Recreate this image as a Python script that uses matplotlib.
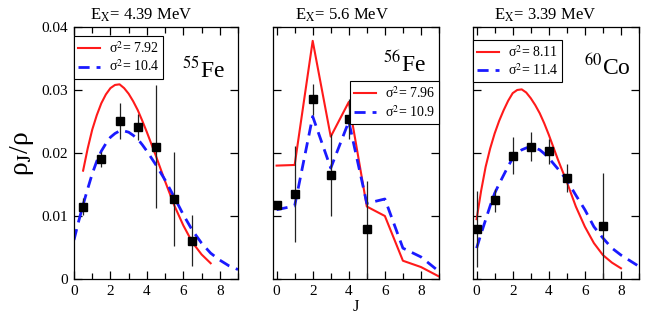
import matplotlib
matplotlib.use("Agg")
import matplotlib.pyplot as plt
import numpy as np

plt.rcParams["font.family"] = ["Liberation Serif", "DejaVu Serif"]
plt.rcParams["mathtext.fontset"] = "stix"

# ---- 55Fe, Ex = 4.39 MeV ----
fe55_j = [0.5, 1.5, 2.5, 3.5, 4.5, 5.5, 6.5]
fe55_y = [0.0115, 0.0190, 0.0251, 0.0241, 0.0210, 0.0127, 0.0061]
fe55_err = [0.0013, 0.0012, 0.0028, 0.0021, 0.0098, 0.0074, 0.0041]
fe55_red_j = [0.5, 0.75, 1.0, 1.25, 1.5, 1.75, 2.0, 2.25, 2.5, 2.75, 3.0, 3.25,
              3.5, 3.75, 4.0, 4.5, 5.0, 5.5, 6.0, 6.5, 7.0, 7.5]
fe55_red = [0.0172, 0.0207, 0.0237, 0.0260, 0.0279, 0.0293, 0.0303, 0.0308,
            0.0309, 0.0303, 0.0294, 0.0282, 0.0268, 0.0251, 0.0233,
            0.0195, 0.0155, 0.0117, 0.0085, 0.0058, 0.0039, 0.0025]
fe55_blue_j = [0.0, 0.25, 0.5, 0.75, 1.0, 1.25, 1.5, 1.75, 2.0, 2.25, 2.5, 2.75,
               3.0, 3.25, 3.5, 3.75, 4.0, 4.5, 5.0, 5.5, 6.0, 6.5, 7.0, 7.5,
               8.0, 8.5, 9.0]
fe55_blue = [0.0062, 0.0091, 0.0118, 0.0143, 0.0167, 0.0187, 0.0203, 0.0215,
             0.0225, 0.0231, 0.0235, 0.0235, 0.0233, 0.0228, 0.0222, 0.0213,
             0.0203, 0.0181, 0.0157, 0.0130, 0.0102, 0.0077, 0.0057, 0.0041,
             0.0030, 0.0021, 0.0015]

# ---- 56Fe, Ex = 5.6 MeV ----
fe56_j = [0, 1, 2, 3, 4, 5]
fe56_y = [0.0118, 0.0135, 0.0285, 0.0165, 0.0254, 0.0079]
fe56_err = [0.0004, 0.0076, 0.0025, 0.0065, 0.0032, 0.0077]
fe56_line_j = [0, 1, 2, 3, 4, 5, 6, 7, 8, 9]
fe56_red = [0.0180, 0.0181, 0.0378, 0.0226, 0.0281, 0.0115, 0.0100, 0.0029, 0.0019, 0.0004]
fe56_blue = [0.0110, 0.0116, 0.0258, 0.0176, 0.0250, 0.0120, 0.0127, 0.0049, 0.0035, 0.0012]

# ---- 60Co, Ex = 3.39 MeV ----
co60_j = [0, 1, 2, 3, 4, 5, 7]
co60_y = [0.0079, 0.0125, 0.0196, 0.0210, 0.0203, 0.0160, 0.0084]
co60_err = [0.0060, 0.0018, 0.0030, 0.0023, 0.0020, 0.0022, 0.0084]
co60_red_j = [0.0, 0.25, 0.5, 0.75, 1.0, 1.25, 1.5, 1.75, 2.0, 2.25, 2.5, 2.75,
              3.0, 3.25, 3.5, 3.75, 4.0, 4.5, 5.0, 5.5, 6.0, 6.5, 7.0, 7.5, 8.0]
co60_red = [0.0095, 0.0140, 0.0178, 0.0207, 0.0231, 0.0251, 0.0268, 0.0283,
            0.0295, 0.0300, 0.0301, 0.0296, 0.0287, 0.0276, 0.0263, 0.0247,
            0.0229, 0.0190, 0.0154, 0.0115, 0.0083, 0.0057, 0.0038, 0.0026, 0.0017]
co60_blue_j = [0.0, 0.25, 0.5, 0.75, 1.0, 1.25, 1.5, 1.75, 2.0, 2.25, 2.5, 2.75,
               3.0, 3.25, 3.5, 3.75, 4.0, 4.5, 5.0, 5.5, 6.0, 6.5, 7.0, 7.5,
               8.0, 8.5, 9.0]
co60_blue = [0.0049, 0.0072, 0.0094, 0.0116, 0.0136, 0.0151, 0.0165, 0.0179,
             0.0192, 0.0199, 0.0205, 0.0208, 0.0210, 0.0208, 0.0205, 0.0199,
             0.0192, 0.0175, 0.0157, 0.0133, 0.0110, 0.0083, 0.0065, 0.0049,
             0.0038, 0.0029, 0.0020]

titles = ["E$_{\\rm X}$= 4.39 MeV", "E$_{\\rm X}$= 5.6 MeV", "E$_{\\rm X}$= 3.39 MeV"]
nuclei = ["$^{55}$Fe", "$^{56}$Fe", "$^{60}$Co"]
red_labels = ["σ$^2$= 7.92", "σ$^2$= 7.96", "σ$^2$= 8.11"]
blue_labels = ["σ$^2$= 10.4", "σ$^2$= 10.9", "σ$^2$= 11.4"]

RED = "#ff1a1a"
BLUE = "#1a1aff"

panels = [
    (fe55_j, fe55_y, fe55_err, fe55_red_j, fe55_red, fe55_blue_j, fe55_blue),
    (fe56_j, fe56_y, fe56_err, fe56_line_j, fe56_red, fe56_line_j, fe56_blue),
    (co60_j, co60_y, co60_err, co60_red_j, co60_red, co60_blue_j, co60_blue),
]

fig = plt.figure(figsize=(6.54, 3.16), dpi=100)
lefts = [74 / 654, 273 / 654, 473 / 654]
widths = [164 / 654, 166 / 654, 166 / 654]
xlims = [(0, 9), (-0.2, 9), (-0.2, 9)]
legend_anchor = [(0.0, 0.965), (1.0, 0.785), (0.0, 0.95)]
legend_loc = ["upper left", "upper right", "upper left"]
nuc_pos = [(0.66, 0.80), (0.66, 0.82), (0.67, 0.81)]
title_x = [0.41, 0.415, 0.435]

for i, (jj, yy, ee, rj, rv, bj, bv) in enumerate(panels):
    ax = fig.add_axes([lefts[i], 1 - 279 / 316, widths[i], 252 / 316])
    ax.plot(rj, rv, color=RED, lw=1.5, label=red_labels[i], zorder=2)
    ax.plot(bj, bv, color=BLUE, lw=2, ls=(0, (4, 2.5)), label=blue_labels[i], zorder=2)
    ax.errorbar(jj, yy, yerr=ee, fmt="s", color="black", ms=5.2,
                elinewidth=0.9, ecolor="#222222", capsize=0, zorder=3)
    ax.set_xlim(*xlims[i])
    ax.set_ylim(0, 0.04)
    ax.set_xticks([0, 2, 4, 6, 8])
    ax.set_xticks(np.arange(0, 10, 1), minor=True)
    ax.set_yticks([0, 0.01, 0.02, 0.03, 0.04])
    ax.tick_params(which="both", direction="in", top=True, right=True,
                   labelsize=11, pad=4)
    ax.tick_params(which="major", length=6, width=0.9)
    ax.tick_params(which="minor", length=4, width=0.9)
    if i == 0:
        ax.set_yticklabels(["0", "0.01", "0.02", "0.03", "0.04"])
        ax.set_ylabel("ρ$_{\\rm J}$/ρ", fontsize=20, labelpad=4)
    else:
        ax.set_yticklabels([])
    if i == 1:
        ax.set_xlabel("J", fontsize=12, labelpad=1)
    ax.set_title(titles[i], fontsize=12, pad=5, x=title_x[i])
    ax.text(nuc_pos[i][0], nuc_pos[i][1], nuclei[i], transform=ax.transAxes,
            fontsize=17)
    leg = ax.legend(loc=legend_loc[i], bbox_to_anchor=legend_anchor[i],
                    fontsize=10, frameon=True, fancybox=False, framealpha=1,
                    edgecolor="black", handlelength=1.6, borderpad=0.3,
                    labelspacing=0.2, handletextpad=0.6, borderaxespad=0)
    leg.get_frame().set_linewidth(0.8)
    for s in ax.spines.values():
        s.set_linewidth(0.9)

fig.savefig("out.png", dpi=100)
